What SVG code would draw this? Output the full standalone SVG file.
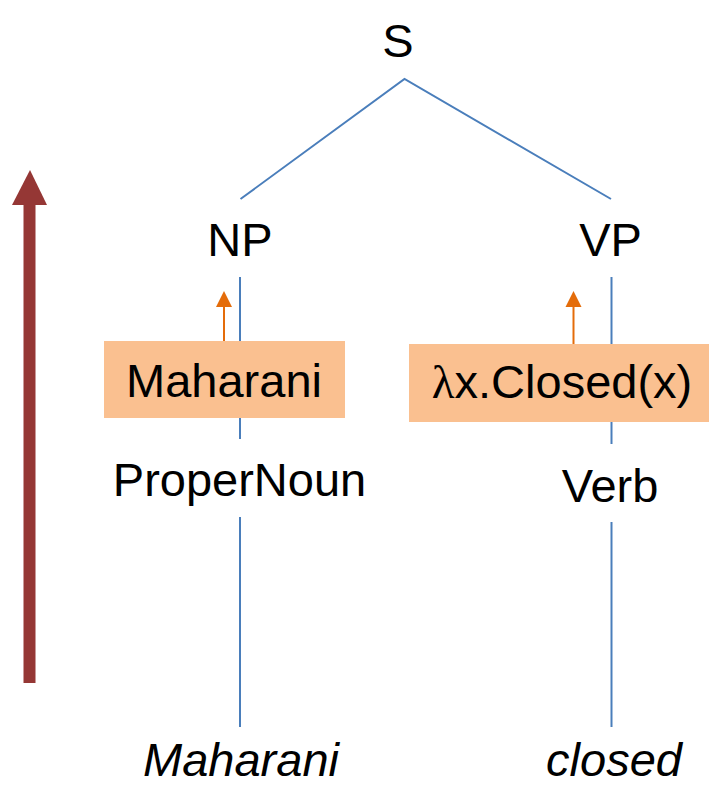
<svg xmlns="http://www.w3.org/2000/svg" width="713" height="787" viewBox="0 0 713 787">
<defs>
<style>
.t{font-family:"Liberation Sans",Arial,sans-serif;font-size:47px;fill:#000;text-anchor:middle}
.i{font-style:italic}
.e{stroke:#4A7EBB;stroke-width:2;fill:none}
.box{fill:#FAC090}
.oa{stroke:#E46C0A;stroke-width:2}
.oh{fill:#E46C0A}
.big{fill:#953735}
</style>
</defs>
<rect width="713" height="787" fill="#fff"/>
<g id="connectors">
<polyline class="e" points="240.5,199 404.5,79 611,199"/>
<line class="e" x1="240" y1="277" x2="240" y2="341"/>
<line class="e" x1="240" y1="418" x2="240" y2="439"/>
<line class="e" x1="240" y1="517" x2="240" y2="727"/>
<line class="e" x1="611.5" y1="277" x2="611.5" y2="344"/>
<line class="e" x1="611.5" y1="422" x2="611.5" y2="444"/>
<line class="e" x1="611.5" y1="522" x2="611.5" y2="727"/>
<line class="oa" x1="224" y1="341" x2="224" y2="305"/>
<polygon class="oh" points="216,307 224,291 232,307"/>
<line class="oa" x1="573.5" y1="344" x2="573.5" y2="305"/>
<polygon class="oh" points="565.5,307 573.5,291 581.5,307"/>
</g>
<g id="bigArrow">
<rect class="big" x="23.5" y="203" width="12" height="480"/>
<polygon class="big" points="12,205 30,170 47,205"/>
</g>
<g id="S"><text class="t" x="398" y="57">S</text></g>
<g id="NP"><text class="t" x="240" y="256">NP</text></g>
<g id="VP"><text class="t" x="610.5" y="256">VP</text></g>
<g id="semNP"><rect class="box" x="104" y="341" width="241" height="77"/><text class="t" x="224" y="397">Maharani</text></g>
<g id="semVP"><rect class="box" x="409" y="344" width="300" height="78"/><text class="t" x="562" y="398"><tspan style="font-family:'Liberation Serif',serif">λ</tspan>x.Closed(x)</text></g>
<g id="ProperNoun"><text class="t" x="239.5" y="496">ProperNoun</text></g>
<g id="Verb"><text class="t" x="610" y="502">Verb</text></g>
<g id="wMaharani"><text class="t i" x="241" y="776">Maharani</text></g>
<g id="wClosed"><text class="t i" x="614" y="776">closed</text></g>
</svg>
